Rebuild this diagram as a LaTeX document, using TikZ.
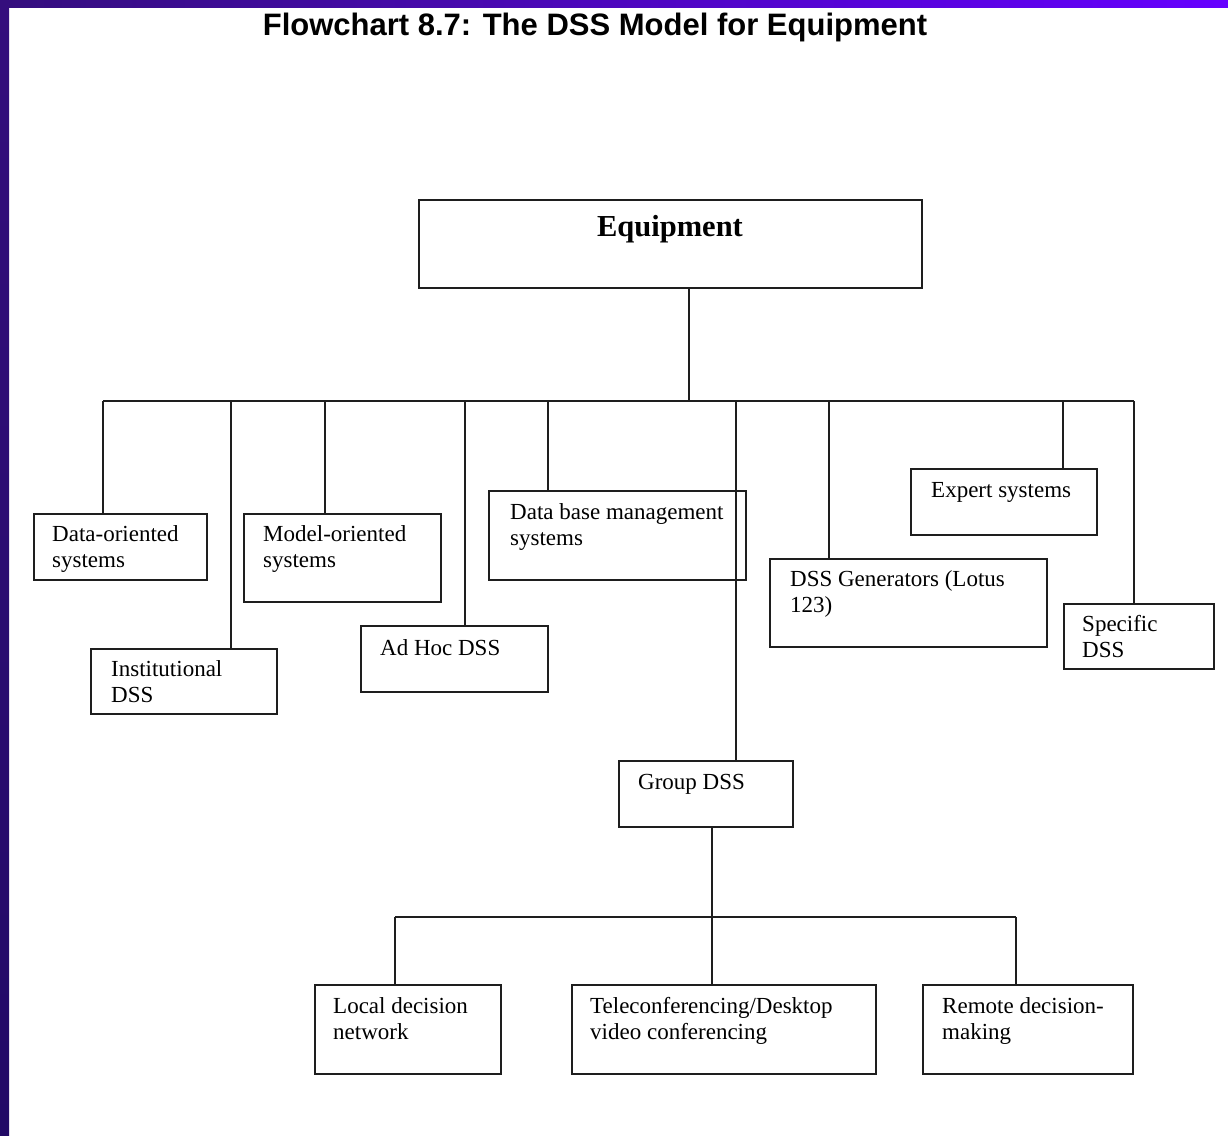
\documentclass[tikz,border=0pt]{standalone}
\usepackage{fontspec}
\setmainfont{Liberation Serif}
\newfontfamily\titlefont{Liberation Sans}
\usetikzlibrary{calc}
\definecolor{linec}{RGB}{30,30,30}
\definecolor{barA}{RGB}{52,14,125}
\definecolor{barB}{RGB}{102,0,255}
\definecolor{barC}{RGB}{34,10,102}
\begin{document}
\begin{tikzpicture}[x=1pt,y=-1pt,
  box/.style={draw=linec, line width=1.5pt, anchor=north west, inner sep=0pt, fill=none},
  txt/.style={anchor=base west, align=left, inner sep=0pt, font=\fontsize{23}{26.5}\selectfont},
  conn/.style={draw=linec, line width=1.5pt}]
\useasboundingbox (0,0) rectangle (1228,1135);
\fill[white] (0,0) rectangle (1228,1135);
% frame bars
\shade[left color=barA, right color=barB] (0,0) rectangle (1228,7);
\shade[top color=barA, bottom color=barC] (0,0) rectangle (9,1135);
% title
\node[anchor=base, inner sep=0pt, font=\titlefont\bfseries\fontsize{31}{36}\selectfont] (title) at (595,35) {Flowchart 8.7: The DSS Model for Equipment};
% boxes
\node[box, minimum width=503pt, minimum height=88pt] (eq) at (418,199) {};
\node[anchor=base, inner sep=0pt, font=\bfseries\fontsize{30.5}{34}\selectfont] (eqt) at (670,236) {Equipment};
\node[box, minimum width=173pt, minimum height=66pt] (dos) at (33,513) {};
\node[box, minimum width=186pt, minimum height=65pt] (ins) at (90,648) {};
\node[box, minimum width=197pt, minimum height=88pt] (mos) at (243,513) {};
\node[box, minimum width=187pt, minimum height=66pt] (adh) at (360,625) {};
\node[box, minimum width=257pt, minimum height=89pt] (dbm) at (488,490) {};
\node[box, minimum width=174pt, minimum height=66pt] (grp) at (618,760) {};
\node[box, minimum width=277pt, minimum height=88pt] (gen) at (769,558) {};
\node[box, minimum width=186pt, minimum height=66pt] (exp) at (910,468) {};
\node[box, minimum width=150pt, minimum height=65pt] (spc) at (1063,603) {};
\node[box, minimum width=186pt, minimum height=89pt] (loc) at (314,984) {};
\node[box, minimum width=304pt, minimum height=89pt] (tel) at (571,984) {};
\node[box, minimum width=210pt, minimum height=89pt] (rem) at (922,984) {};
% texts (two-line nodes are placed by the baseline of their last line)
\node[txt] (dost) at (52,567.5) {Data-oriented\\systems};
\node[txt] (inst) at (111,702.5) {Institutional\\DSS};
\node[txt] (most) at (263,567.5) {Model-oriented\\systems};
\node[txt] (adht) at (380,655) {Ad Hoc DSS};
\node[txt] (dbmt) at (510,545.5) {Data base management\\systems};
\node[txt] (grpt) at (638,789) {Group DSS};
\node[txt] (gent) at (790,612.5) {DSS Generators (Lotus\\123)};
\node[txt] (expt) at (931,497) {Expert systems};
\node[txt] (spct) at (1082,657.5) {Specific\\DSS};
\node[txt] (loct) at (333,1039.5) {Local decision\\network};
\node[txt] (telt) at (590,1039.5) {Teleconferencing/Desktop\\video conferencing};
\node[txt] (remt) at (942,1039.5) {Remote decision-\\making};
% bus coordinates
\coordinate (busL) at (103,401);
\coordinate (busR) at (1134,401);
\coordinate (t0) at (689,401);
\coordinate (d2) at (231,401);
\coordinate (d3) at (325,401);
\coordinate (d4) at (465,401);
\coordinate (d5) at (548,401);
\coordinate (g0) at (736,401);
\coordinate (d7) at (829,401);
\coordinate (d8) at (1063,401);
\coordinate (g1) at (712,917);
\coordinate (sbL) at (395,917);
\coordinate (sbR) at (1016,917);
% connectors
\draw[conn] (t0 |- eq.south) -- (t0);
\draw[conn] (busL) -- (busR);
\draw[conn] (busL) -- (busL |- dos.north);
\draw[conn] (d2) -- (d2 |- ins.north);
\draw[conn] (d3) -- (d3 |- mos.north);
\draw[conn] (d4) -- (d4 |- adh.north);
\draw[conn] (d5) -- (d5 |- dbm.north);
\draw[conn] (g0) -- (g0 |- grp.north);
\draw[conn] (d7) -- (d7 |- gen.north);
\draw[conn] (d8) -- (d8 |- exp.north);
\draw[conn] (busR) -- (busR |- spc.north);
\draw[conn] (g1 |- grp.south) -- (g1);
\draw[conn] (sbL) -- (sbR);
\draw[conn] (sbL) -- (sbL |- loc.north);
\draw[conn] (g1) -- (g1 |- tel.north);
\draw[conn] (sbR) -- (sbR |- rem.north);
\end{tikzpicture}
\end{document}
